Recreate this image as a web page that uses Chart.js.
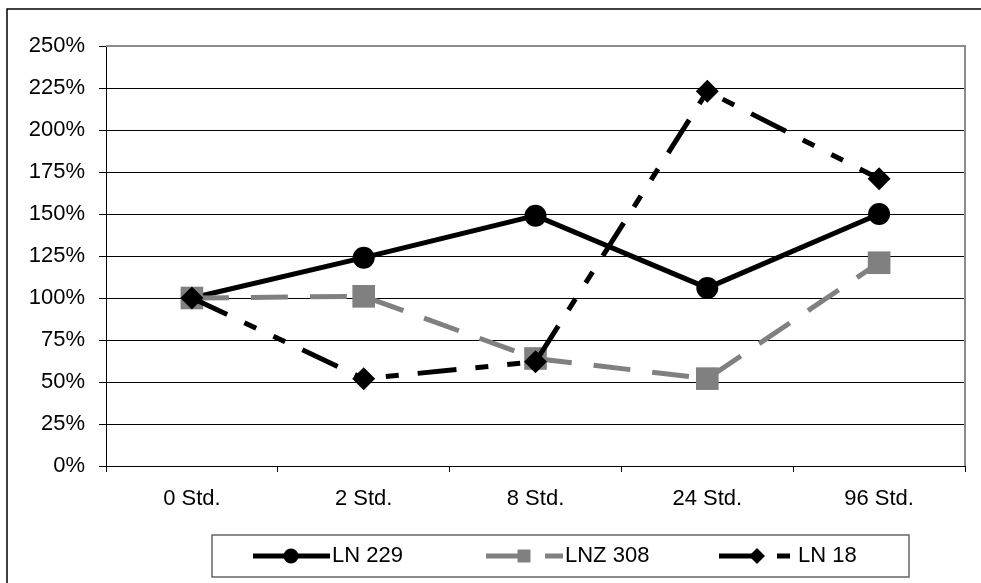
<!DOCTYPE html>
<html>
<head>
<meta charset="utf-8">
<script src="https://cdn.jsdelivr.net/npm/chart.js@4.4.1/dist/chart.umd.min.js"></script>
<style>
  html, body { margin: 0; padding: 0; background: #fff; }
  canvas { display: block; }
</style>
</head>
<body>
<canvas id="c" width="981" height="583"></canvas>
<script>
// ---- data ----
const categories = ['0 Std.', '2 Std.', '8 Std.', '24 Std.', '96 Std.'];
const seriesNames = ['LN 229', 'LNZ 308', 'LN 18'];
const ln229 = [100, 124, 149, 106, 150];
const lnz308 = [100, 101, 64, 52, 121];
const ln18 = [100, 52, 62, 223, 171];
const yTicks = [0, 25, 50, 75, 100, 125, 150, 175, 200, 225, 250];

const FONT = '"Liberation Sans", Arial, sans-serif';
Chart.defaults.font.family = FONT;
Chart.defaults.font.size = 22;
Chart.defaults.color = '#000';

const legendCfg = { starts: [253, 486, 719], y: 556, sample: 77 };

const framePlugin = {
  id: 'frame',
  beforeDraw(chart) {
    const ctx = chart.ctx;
    ctx.save();
    ctx.fillStyle = '#fff';
    ctx.fillRect(0, 0, chart.width, chart.height);
    ctx.strokeStyle = '#000';
    ctx.lineWidth = 1.5;
    ctx.strokeRect(7, 9, 2000, 2000);
    ctx.restore();
  },
  beforeDatasetsDraw(chart) {
    const { ctx, chartArea: a } = chart;
    ctx.save();
    ctx.strokeStyle = '#8c8c8c';
    ctx.lineWidth = 2;
    ctx.beginPath();
    ctx.moveTo(a.left, a.top);
    ctx.lineTo(a.right, a.top);
    ctx.lineTo(a.right, a.bottom);
    ctx.stroke();
    ctx.restore();
  },
  afterDraw(chart) {
    const ctx = chart.ctx;
    ctx.save();
    // legend box
    ctx.strokeStyle = '#666';
    ctx.lineWidth = 1.5;
    ctx.strokeRect(212, 535, 697, 42);
    chart.data.datasets.forEach((ds, i) => {
      const sx = legendCfg.starts[i];
      const y = legendCfg.y;
      ctx.save();
      ctx.strokeStyle = ds.borderColor;
      ctx.lineWidth = ds.borderWidth;
      ctx.setLineDash(ds.borderDash || []);
      ctx.lineCap = 'butt';
      ctx.beginPath();
      ctx.moveTo(sx, y);
      ctx.lineTo(sx + legendCfg.sample, y);
      ctx.stroke();
      ctx.restore();
      const mx = sx + 38;
      ctx.fillStyle = ds.pointBackgroundColor;
      ctx.beginPath();
      if (ds.pointStyle === 'circle') {
        ctx.arc(mx, y, 7.5, 0, Math.PI * 2);
      } else if (ds.pointStyle === 'rect') {
        ctx.rect(mx - 6.5, y - 6.5, 13, 13);
      } else {
        ctx.moveTo(mx, y - 8); ctx.lineTo(mx + 8, y); ctx.lineTo(mx, y + 8); ctx.lineTo(mx - 8, y); ctx.closePath();
      }
      ctx.fill();
      ctx.fillStyle = '#000';
      ctx.font = '22px ' + FONT;
      ctx.textBaseline = 'middle';
      ctx.textAlign = 'left';
      ctx.fillText(ds.label, sx + 79, y);
    });
    ctx.restore();
  }
};

new Chart(document.getElementById('c'), {
  type: 'line',
  data: {
    labels: categories,
    datasets: [
      {
        label: seriesNames[0], data: ln229, order: 2,
        borderColor: '#000', borderWidth: 5,
        pointStyle: 'circle', pointRadius: 11, pointHoverRadius: 11,
        pointBackgroundColor: '#000', pointBorderColor: '#000', pointBorderWidth: 0,
        tension: 0, fill: false
      },
      {
        label: seriesNames[1], data: lnz308, order: 1,
        borderColor: '#808080', borderWidth: 5, borderDash: [37, 22],
        pointStyle: 'rect', pointRadius: 16, pointHoverRadius: 16,
        pointBackgroundColor: '#808080', pointBorderColor: '#808080', pointBorderWidth: 0,
        tension: 0, fill: false
      },
      {
        label: seriesNames[2], data: ln18, order: 0,
        borderColor: '#000', borderWidth: 5, borderDash: [39, 19, 13, 19, 13, 19],
        pointStyle: 'rectRot', pointRadius: 11.5, pointHoverRadius: 11.5,
        pointBackgroundColor: '#000', pointBorderColor: '#000', pointBorderWidth: 0,
        tension: 0, fill: false
      }
    ]
  },
  options: {
    responsive: false,
    devicePixelRatio: 1,
    animation: false,
    events: [],
    layout: { padding: { left: 0, right: 3, top: 46, bottom: 0 } },
    plugins: { legend: { display: false }, tooltip: { enabled: false } },
    scales: {
      x: {
        type: 'category',
        offset: true,
        grid: { offset: true, drawOnChartArea: false, drawTicks: true, tickLength: 6, color: '#000', lineWidth: 1 },
        border: { display: true, color: '#000', width: 1 },
        ticks: { padding: 14, font: { size: 22 }, color: '#000', maxRotation: 0 },
        afterFit(s) { s.height = 117; }
      },
      y: {
        min: 0, max: 250,
        afterBuildTicks(s) { s.ticks = yTicks.map(v => ({ value: v })); },
        grid: { color: '#000', lineWidth: 1, drawTicks: true, tickLength: 7, tickColor: '#000' },
        border: { display: true, color: '#000', width: 1 },
        ticks: { padding: 14, font: { size: 22 }, color: '#000', callback: v => v + '%' },
        afterFit(s) { s.width = 106; }
      }
    }
  },
  plugins: [framePlugin]
});
</script>
</body>
</html>
